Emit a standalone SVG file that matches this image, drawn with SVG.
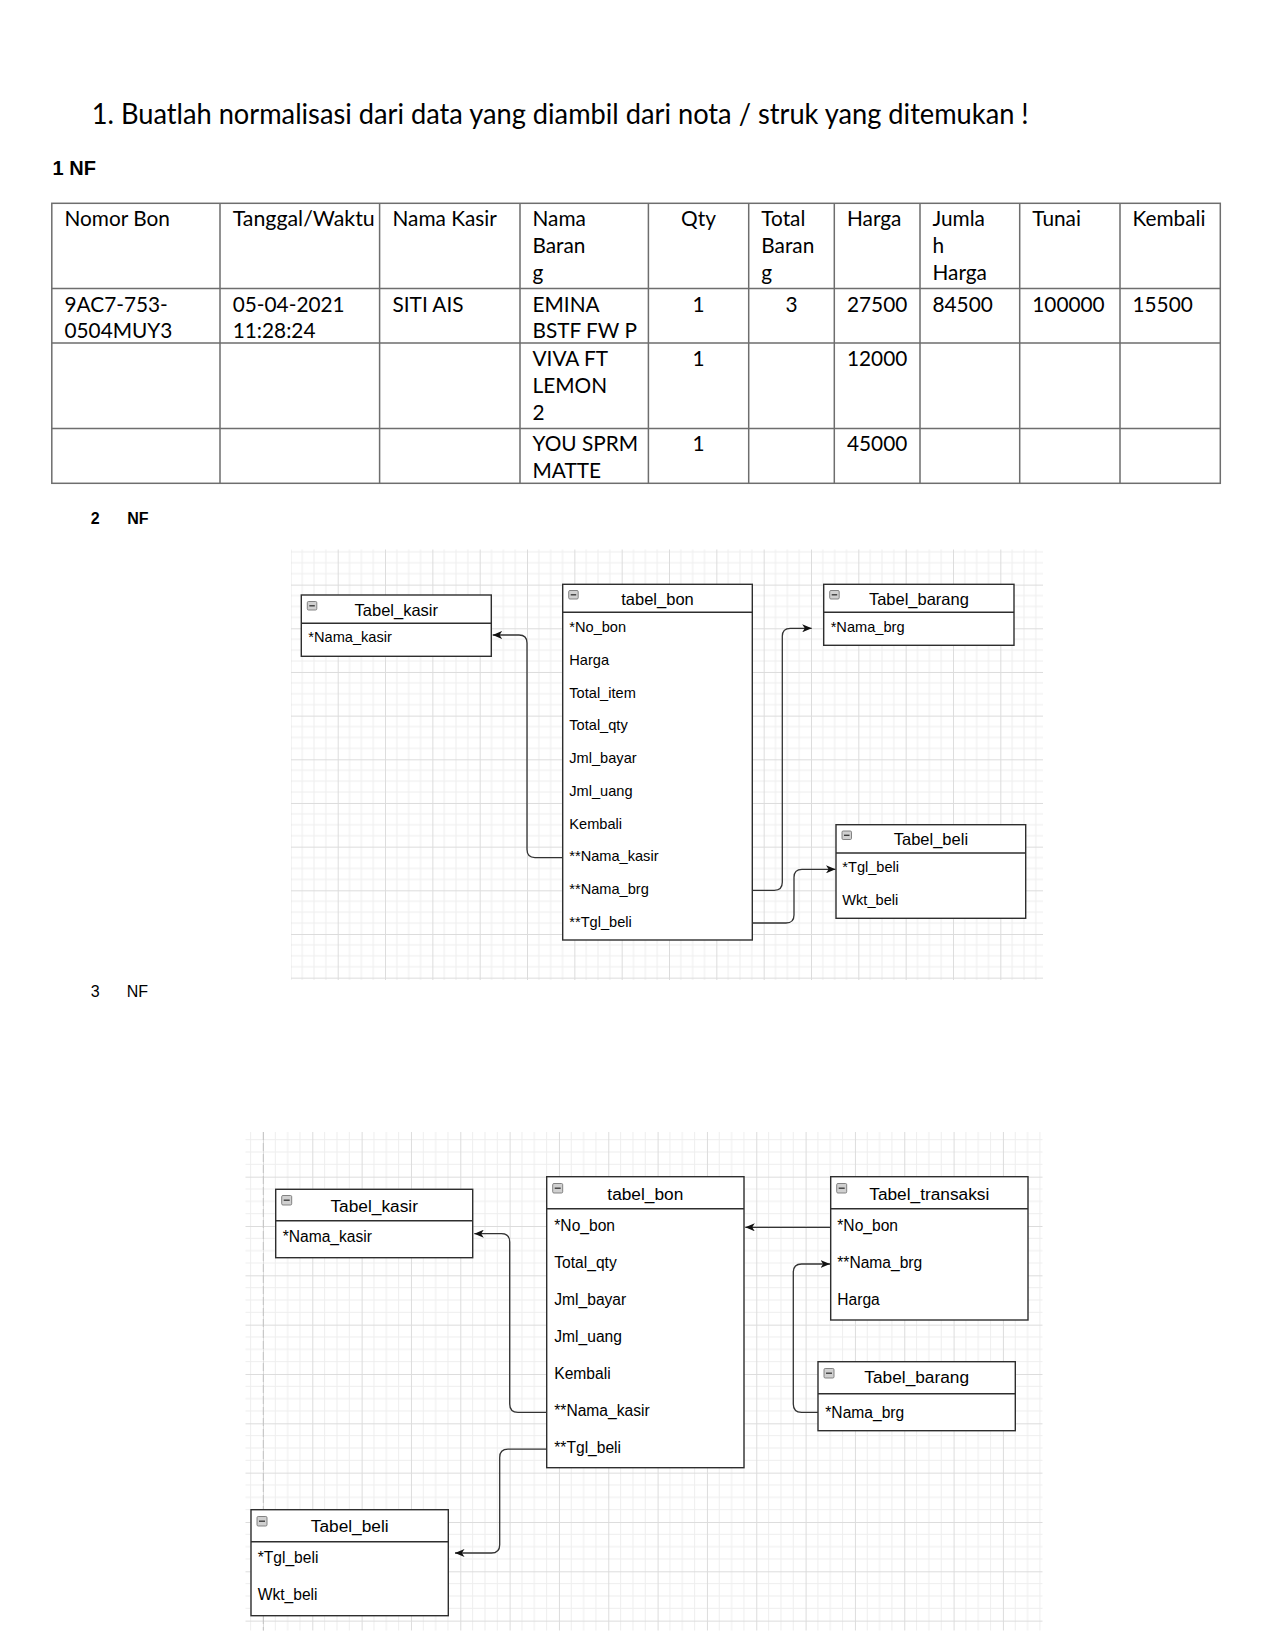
<svg xmlns="http://www.w3.org/2000/svg" width="1275" height="1650" viewBox="0 0 1275 1650">
<style>
.doc{font-family:Lato,"Open Sans","Liberation Sans",sans-serif;fill:#000}
.cell{font-size:20.8px}
.hd{font-family:"Liberation Sans",Arial,sans-serif;fill:#000}
.tl{fill:none;stroke:#6e6e6e;stroke-width:1.5}
.box{fill:#fff;stroke:#2e2e2e;stroke-width:1.4}
.sep{stroke:#2e2e2e;stroke-width:1.4}
.er{font-family:"Liberation Sans",Arial,sans-serif;fill:#000}
.t2{font-size:16.5px}
.f2{font-size:14.6px}
.t3{font-size:17.3px}
.f3{font-size:15.6px}
.ic{fill:#d0d0d0;stroke:#777;stroke-width:0.9}
.icl{stroke:#333;stroke-width:1.3}
.con{fill:none;stroke:#333;stroke-width:1.3}
.mid{text-anchor:middle}
</style>
<defs>
<marker id="arr" markerUnits="userSpaceOnUse" markerWidth="10" markerHeight="8" refX="9.5" refY="4" orient="auto">
<path d="M9.5,4 L0,0 L2.6,4 L0,8 Z" fill="#111"/>
</marker>
<pattern id="g2" patternUnits="userSpaceOnUse" x="337.7" y="628.3" width="47.33" height="43.67">
<path d="M11.83,0V43.67M23.67,0V43.67M35.5,0V43.67M0,10.92H47.33M0,21.83H47.33M0,32.75H47.33" stroke="#eeeeee" stroke-width="1" fill="none"/>
<path d="M0.5,0V43.67M0,0.5H47.33" stroke="#dcdcdc" stroke-width="1" fill="none"/>
</pattern>
<pattern id="g3" patternUnits="userSpaceOnUse" x="312.3" y="1226" width="49.33" height="49.33">
<path d="M12.33,0V49.33M24.67,0V49.33M37,0V49.33M0,12.33H49.33M0,24.67H49.33M0,37H49.33" stroke="#eeeeee" stroke-width="1" fill="none"/>
<path d="M0.5,0V49.33M0,0.5H49.33" stroke="#dcdcdc" stroke-width="1" fill="none"/>
</pattern>
</defs>
<rect width="1275" height="1650" fill="#fff"/>

<!-- Title and headings -->
<g id="title">
<text class="doc" x="91.7" y="124" font-size="28" textLength="937" lengthAdjust="spacingAndGlyphs">1. Buatlah normalisasi dari data yang diambil dari nota / struk yang ditemukan !</text>
</g>
<g id="h1nf"><text class="hd" x="52.6" y="175" font-size="20" font-weight="bold">1 NF</text></g>
<g id="h2nf"><text class="hd" x="90.7" y="524" font-size="16" font-weight="bold">2</text><text class="hd" x="127.3" y="524" font-size="16" font-weight="bold">NF</text></g>
<g id="h3nf"><text class="hd" x="90.7" y="997.3" font-size="16" fill="#222">3</text><text class="hd" x="126.7" y="997.3" font-size="16" fill="#222">NF</text></g>

<!-- 1NF table -->
<g id="table-1nf">
<rect class="tl" x="51.8" y="203.3" width="1168.5" height="280"/>
<path class="tl" d="M51.8,288.6H1220.3M51.8,343H1220.3M51.8,428.5H1220.3M220,203.3V483.3M379.6,203.3V483.3M520,203.3V483.3M648.4,203.3V483.3M748.7,203.3V483.3M834.3,203.3V483.3M920,203.3V483.3M1019.7,203.3V483.3M1120,203.3V483.3"/>
<g class="doc cell">
<text x="64.5" y="226">Nomor Bon</text>
<text x="232.7" y="226" textLength="142" lengthAdjust="spacingAndGlyphs">Tanggal/Waktu</text>
<text x="392.5" y="226">Nama Kasir</text>
<text x="532.5" y="226">Nama</text><text x="532.5" y="253">Baran</text><text x="532.5" y="280">g</text>
<text class="mid" x="698.5" y="226">Qty</text>
<text x="761.3" y="226">Total</text><text x="761.3" y="253">Baran</text><text x="761.3" y="280">g</text>
<text x="847" y="226">Harga</text>
<text x="932.5" y="226">Jumla</text><text x="932.5" y="253">h</text><text x="932.5" y="280">Harga</text>
<text x="1032.3" y="226">Tunai</text>
<text x="1132.5" y="226">Kembali</text>

<text x="64.5" y="311.5">9AC7-753-</text><text x="64.5" y="338.2">0504MUY3</text>
<text x="232.7" y="311.5">05-04-2021</text><text x="232.7" y="338.2">11:28:24</text>
<text x="392.5" y="311.5">SITI AIS</text>
<text x="532.5" y="311.5">EMINA</text><text x="532.5" y="338.2">BSTF FW P</text>
<text class="mid" x="698.5" y="311.5">1</text>
<text class="mid" x="791.5" y="311.5">3</text>
<text x="847" y="311.5">27500</text>
<text x="932.5" y="311.5">84500</text>
<text x="1032.3" y="311.5">100000</text>
<text x="1132.5" y="311.5">15500</text>

<text x="532.5" y="365.8">VIVA FT</text><text x="532.5" y="392.8">LEMON</text><text x="532.5" y="419.8">2</text>
<text class="mid" x="698.5" y="365.8">1</text>
<text x="847" y="365.8">12000</text>

<text x="532.5" y="451.3">YOU SPRM</text><text x="532.5" y="478">MATTE</text>
<text class="mid" x="698.5" y="451.3">1</text>
<text x="847" y="451.3">45000</text>
</g>
</g>

<!-- 2NF diagram -->
<g id="grid-2nf"><rect x="291" y="549.5" width="752" height="430.5" fill="url(#g2)"/></g>

<g id="n2-kasir">
<rect class="box" x="301.3" y="595" width="190" height="61.3"/>
<line class="sep" x1="301.3" y1="623.3" x2="491.3" y2="623.3"/>
<rect class="ic" x="307.3" y="601.5" width="9.5" height="8.5" rx="1.2"/><line class="icl" x1="309.3" y1="605.8" x2="314.8" y2="605.8"/>
<text class="er t2 mid" x="396.3" y="616">Tabel_kasir</text>
<text class="er f2" x="308.3" y="642.3">*Nama_kasir</text>
</g>

<g id="n2-bon">
<rect class="box" x="562.7" y="584.3" width="189.6" height="355.7"/>
<line class="sep" x1="562.7" y1="612.3" x2="752.3" y2="612.3"/>
<rect class="ic" x="568.7" y="590.5" width="9.5" height="8.5" rx="1.2"/><line class="icl" x1="570.7" y1="594.8" x2="576.2" y2="594.8"/>
<text class="er t2 mid" x="657.5" y="605">tabel_bon</text>
<g class="er f2">
<text x="569.3" y="632.3">*No_bon</text>
<text x="569.3" y="665">Harga</text>
<text x="569.3" y="697.7">Total_item</text>
<text x="569.3" y="730.4">Total_qty</text>
<text x="569.3" y="763.1">Jml_bayar</text>
<text x="569.3" y="795.8">Jml_uang</text>
<text x="569.3" y="828.5">Kembali</text>
<text x="569.3" y="861.2">**Nama_kasir</text>
<text x="569.3" y="893.9">**Nama_brg</text>
<text x="569.3" y="926.6">**Tgl_beli</text>
</g>
</g>

<g id="n2-barang">
<rect class="box" x="823.7" y="584.3" width="190.3" height="61"/>
<line class="sep" x1="823.7" y1="612.3" x2="1014" y2="612.3"/>
<rect class="ic" x="829.7" y="590.5" width="9.5" height="8.5" rx="1.2"/><line class="icl" x1="831.7" y1="594.8" x2="837.2" y2="594.8"/>
<text class="er t2 mid" x="918.9" y="605">Tabel_barang</text>
<text class="er f2" x="830.7" y="632">*Nama_brg</text>
</g>

<g id="n2-beli">
<rect class="box" x="836" y="824.7" width="189.7" height="93.6"/>
<line class="sep" x1="836" y1="853" x2="1025.7" y2="853"/>
<rect class="ic" x="842" y="831" width="9.5" height="8.5" rx="1.2"/><line class="icl" x1="844" y1="835.3" x2="849.5" y2="835.3"/>
<text class="er t2 mid" x="930.9" y="845">Tabel_beli</text>
<text class="er f2" x="842.3" y="871.7">*Tgl_beli</text>
<text class="er f2" x="842.3" y="905">Wkt_beli</text>
</g>

<g id="connectors-2nf">
<path class="con" marker-end="url(#arr)" d="M562.7,857.6H535Q527,857.6 527,849.6V643Q527,635 519,635H492.7"/>
<path class="con" marker-end="url(#arr)" d="M752.3,890.3H774.3Q782.3,890.3 782.3,882.3V636.3Q782.3,628.3 790.3,628.3H811.7"/>
<path class="con" marker-end="url(#arr)" d="M752.3,923H786Q794,923 794,915V877.3Q794,869.3 802,869.3H835.5"/>
</g>

<!-- 3NF diagram -->
<g id="grid-3nf">
<rect x="245.5" y="1132" width="797" height="498.5" fill="url(#g3)"/>
<line x1="263.3" y1="1132" x2="263.3" y2="1630.5" stroke="#c4c4c4" stroke-width="1" stroke-dasharray="8 3"/>
</g>

<g id="n3-kasir">
<rect class="box" x="275.7" y="1189.3" width="197" height="68.4"/>
<line class="sep" x1="275.7" y1="1220.7" x2="472.7" y2="1220.7"/>
<rect class="ic" x="281.7" y="1195.5" width="10" height="9.5" rx="1.2"/><line class="icl" x1="283.7" y1="1200.2" x2="289.7" y2="1200.2"/>
<text class="er t3 mid" x="374.2" y="1211.7">Tabel_kasir</text>
<text class="er f3" x="282.7" y="1242.3">*Nama_kasir</text>
</g>

<g id="n3-bon">
<rect class="box" x="546.7" y="1176.7" width="197.3" height="291"/>
<line class="sep" x1="546.7" y1="1208.7" x2="744" y2="1208.7"/>
<rect class="ic" x="552.7" y="1183.5" width="10" height="9.5" rx="1.2"/><line class="icl" x1="554.7" y1="1188.2" x2="560.7" y2="1188.2"/>
<text class="er t3 mid" x="645.3" y="1200">tabel_bon</text>
<g class="er f3">
<text x="554.3" y="1230.7">*No_bon</text>
<text x="554.3" y="1267.7">Total_qty</text>
<text x="554.3" y="1304.7">Jml_bayar</text>
<text x="554.3" y="1341.7">Jml_uang</text>
<text x="554.3" y="1378.7">Kembali</text>
<text x="554.3" y="1415.7">**Nama_kasir</text>
<text x="554.3" y="1452.7">**Tgl_beli</text>
</g>
</g>

<g id="n3-transaksi">
<rect class="box" x="830.7" y="1176.7" width="197.3" height="143.3"/>
<line class="sep" x1="830.7" y1="1208.7" x2="1028" y2="1208.7"/>
<rect class="ic" x="836.7" y="1183.5" width="10" height="9.5" rx="1.2"/><line class="icl" x1="838.7" y1="1188.2" x2="844.7" y2="1188.2"/>
<text class="er t3 mid" x="929.3" y="1200">Tabel_transaksi</text>
<text class="er f3" x="837.3" y="1230.7">*No_bon</text>
<text class="er f3" x="837.3" y="1267.7">**Nama_brg</text>
<text class="er f3" x="837.3" y="1304.5">Harga</text>
</g>

<g id="n3-barang">
<rect class="box" x="818" y="1361.7" width="197.3" height="69"/>
<line class="sep" x1="818" y1="1393.7" x2="1015.3" y2="1393.7"/>
<rect class="ic" x="824" y="1368.5" width="10" height="9.5" rx="1.2"/><line class="icl" x1="826" y1="1373.2" x2="832" y2="1373.2"/>
<text class="er t3 mid" x="916.7" y="1383.3">Tabel_barang</text>
<text class="er f3" x="825.3" y="1417.7">*Nama_brg</text>
</g>

<g id="n3-beli">
<rect class="box" x="251" y="1509.7" width="197.3" height="106"/>
<line class="sep" x1="251" y1="1541.7" x2="448.3" y2="1541.7"/>
<rect class="ic" x="257" y="1516.5" width="10" height="9.5" rx="1.2"/><line class="icl" x1="259" y1="1521.2" x2="265" y2="1521.2"/>
<text class="er t3 mid" x="349.7" y="1532.3">Tabel_beli</text>
<text class="er f3" x="257.7" y="1563.3">*Tgl_beli</text>
<text class="er f3" x="257.7" y="1600">Wkt_beli</text>
</g>

<g id="connectors-3nf">
<path class="con" marker-end="url(#arr)" d="M546.7,1412.3H518Q509.7,1412.3 509.7,1404V1242Q509.7,1233.7 501.4,1233.7H474.3"/>
<path class="con" marker-end="url(#arr)" d="M546.7,1449.2H508Q499.7,1449.2 499.7,1457.5V1544.7Q499.7,1553 491.4,1553H455"/>
<path class="con" marker-end="url(#arr)" d="M830.7,1227.3H745.3"/>
<path class="con" marker-end="url(#arr)" d="M818,1412.3H801.6Q793.3,1412.3 793.3,1404V1272.3Q793.3,1264 801.6,1264H830"/>
</g>
</svg>
